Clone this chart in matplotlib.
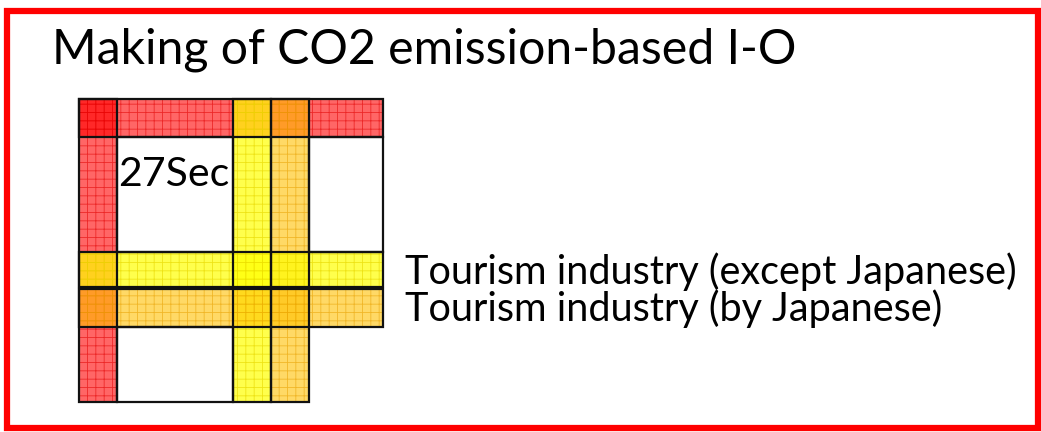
import matplotlib.pyplot as plt
from matplotlib.patches import Rectangle

# Diagram content
title = "Making of CO2 emission-based I-O"
cell_label = "27Sec"
band_labels = ["Tourism industry (except Japanese)", "Tourism industry (by Japanese)"]

# grid edges of the I-O table (pixels)
col_edges = [79, 117, 233, 271, 309, 383]
row_edges = [99, 137, 252, 287, 289, 327, 402]

# bands in drawing order: (direction, index, colour)
bands = [("col", 0, "#ff0000"), ("row", 0, "#ff0000"),
         ("col", 2, "#ffff00"), ("col", 3, "#ffc000"),
         ("row", 2, "#ffff00"), ("row", 4, "#ffc000")]
alphas = {"#ff0000": 0.6, "#ffff00": 0.7, "#ffc000": 0.6}
hatch_cols = {"#ff0000": "#e00000", "#ffff00": "#e8d800", "#ffc000": "#e8a000"}

plt.rcParams['hatch.linewidth'] = 0.6
fig = plt.figure(figsize=(10.41, 4.32), dpi=100)
ax = fig.add_axes([0, 0, 1, 1])
ax.set_xlim(0, 1041)
ax.set_ylim(432, 0)
ax.axis("off")

# red frame
ax.add_patch(Rectangle((7, 11), 1031, 417, fill=False, edgecolor="#ff0000", lw=4.5))

x0, x1 = col_edges[0], col_edges[-1]
y0, y1 = row_edges[0], row_edges[-1]


def band_rect(d, i):
    if d == "col":
        a, b = col_edges[i], col_edges[i + 1]
        return a, y0, b - a, y1 - y0
    a, b = row_edges[i], row_edges[i + 1]
    return x0, a, x1 - x0, b - a


for d, i, c in bands:
    x, y, w, h = band_rect(d, i)
    ax.add_patch(Rectangle((x, y), w, h, facecolor=c, alpha=alphas[c],
                           edgecolor=hatch_cols[c], hatch="++", lw=0))

# outlines
for d, i, c in bands:
    x, y, w, h = band_rect(d, i)
    ax.add_patch(Rectangle((x, y), w, h, fill=False, edgecolor="#111111", lw=1.6))
# white cells outlines
ax.add_patch(Rectangle((117, 137), 116, 115, fill=False, edgecolor="#111111", lw=1.6))
ax.add_patch(Rectangle((309, 137), 74, 115, fill=False, edgecolor="#111111", lw=1.6))
ax.add_patch(Rectangle((117, 327), 116, 75, fill=False, edgecolor="#111111", lw=1.6))

ax.text(52, 50, title, fontsize=34.7, family="Lato", va="center", ha="left")
ax.text(118, 174, cell_label, fontsize=29.5, family="Lato", va="center", ha="left", zorder=5)
ax.text(405, 272, band_labels[0], fontsize=28.5, family="Lato", va="center", ha="left")
ax.text(405, 309, band_labels[1], fontsize=28.5, family="Lato", va="center", ha="left")

fig.savefig("out.png", dpi=100)
